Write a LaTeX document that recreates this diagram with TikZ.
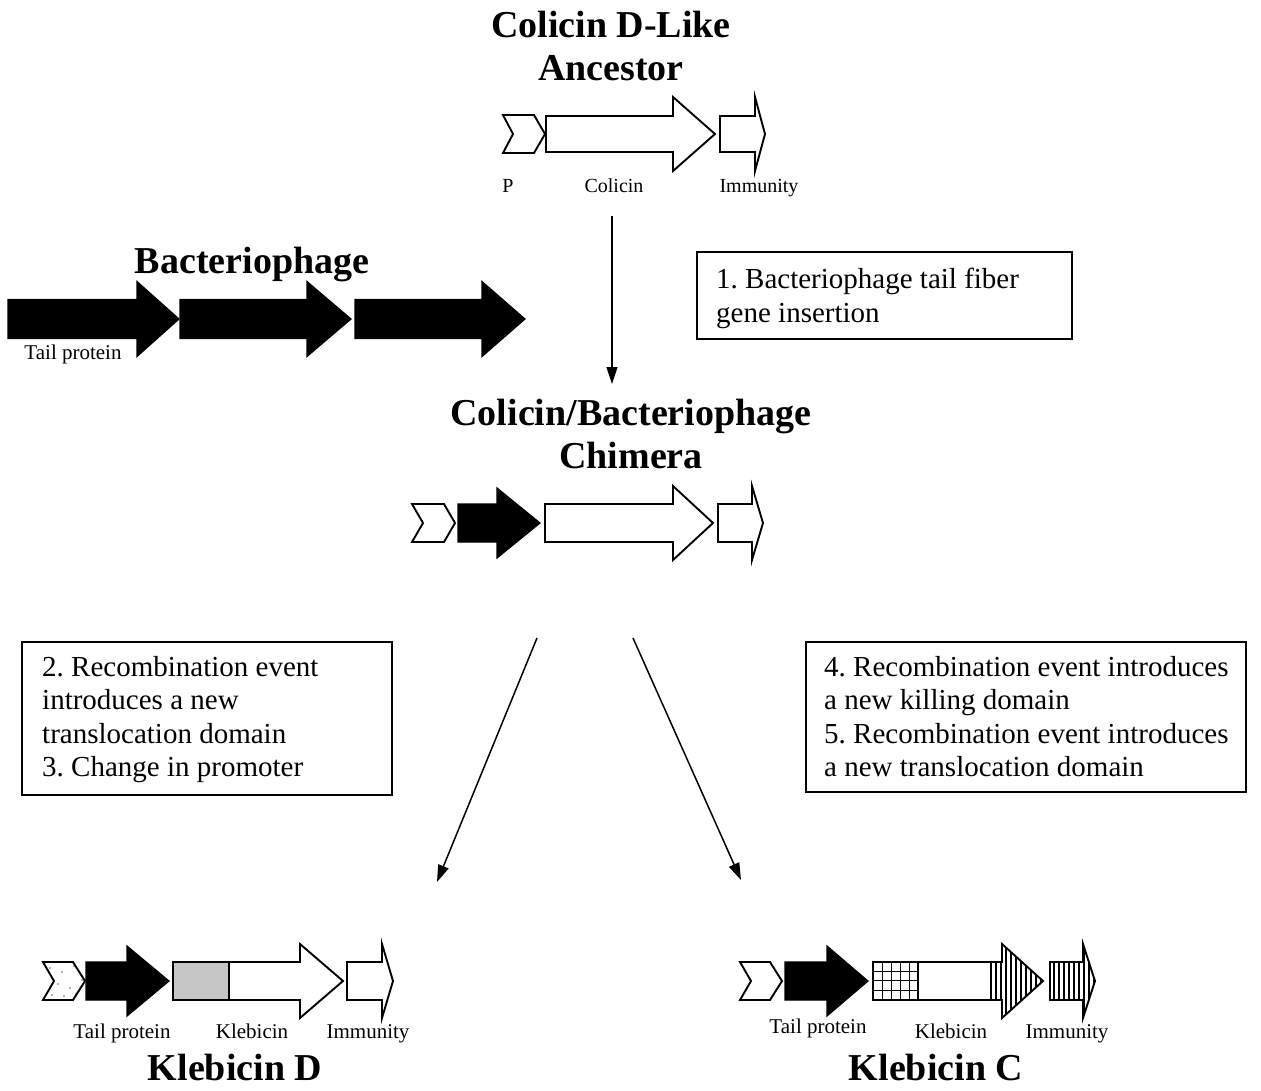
\documentclass[tikz,border=0pt]{standalone}
\usepackage{fontspec}
\setmainfont{Liberation Serif}
\usetikzlibrary{arrows.meta}

% #1 style, #2 x0, #3 head start, #4 tip, #5 y centre, #6 body half-height, #7 head half-height
\newcommand\geneArrow[7]{%
  \path[#1] (#2,#5-#6) -- (#3,#5-#6) -- (#3,#5-#7) -- (#4,#5) -- (#3,#5+#7)
    -- (#3,#5+#6) -- (#2,#5+#6) -- cycle;}
% #1 style, #2 x0, #3 x1, #4 tip, #5 notch, #6 y centre, #7 half-height
\newcommand\genePromoter[7]{%
  \path[#1] (#2,#6-#7) -- (#3,#6-#7) -- (#4,#6) -- (#3,#6+#7) -- (#2,#6+#7)
    -- (#5,#6) -- cycle;}

\tikzset{
  gene/.style={draw=black, line width=1.9pt, line join=miter, fill=white},
  blackgene/.style={draw=black, line width=1.2pt, fill=black},
  title/.style={font=\fontsize{38}{43}\selectfont\bfseries, anchor=base, inner sep=0pt},
  glabel/.style={font=\fontsize{20}{22}\selectfont, anchor=base, inner sep=0pt},
  blabel/.style={font=\fontsize{21}{23}\selectfont, anchor=base, inner sep=0pt},
  stepbox/.style={draw=black, line width=2.6pt, inner sep=0pt},
  steptext/.style={align=left, inner sep=0pt, anchor=north west,
    font=\fontsize{29}{33.5}\selectfont,
    execute at begin node={\frenchspacing}},
  conn/.style={line width=1.5pt, -{Triangle[length=17pt,width=11pt]}},
}

\begin{document}
\begin{tikzpicture}[x=1pt,y=-1pt]
\useasboundingbox (0,0) rectangle (1261,1090);
\fill[white] (0,0) rectangle (1261,1090);

% ---------- Ancestor ----------
\node[title] (anc1) at (611,37) {Colicin D-Like};
\node[title] (anc2) at (611,80) {Ancestor};
\genePromoter{gene}{503}{534}{545}{513}{134}{19}
\geneArrow{gene}{546}{673}{715}{134}{18}{37}
\geneArrow{gene}{720}{755}{765}{134}{18}{37}
\node[glabel] (lP) at (508,192) {P};
\node[glabel] (lCol) at (614,192) {Colicin};
\node[glabel] (lImm) at (759,192) {Immunity};

% ---------- Bacteriophage ----------
\node[title] (phage) at (252,273) {Bacteriophage};
\geneArrow{blackgene}{8}{137}{179}{319}{19.5}{37.5}
\geneArrow{blackgene}{180}{307}{351}{319}{19.5}{37.5}
\geneArrow{blackgene}{355}{482}{525}{319}{19.5}{37.5}
\node[blabel] (ltp0) at (73,359) {Tail protein};

% ---------- Step box 1 ----------
\node[stepbox, minimum width=375pt, minimum height=87pt] (box1) at (884.5,295.5) {};
\node[steptext] (t1) at (716,268) {1. Bacteriophage tail fiber\\gene insertion};

% ---------- Chimera ----------
\coordinate (v1s) at (612,216);
\coordinate (v1e) at (612,384);
\draw[conn] (v1s) -- (v1e);
\node[title] (chim1) at (631,425) {Colicin/Bacteriophage};
\node[title] (chim2) at (631,468) {Chimera};
\genePromoter{gene}{412}{444}{455}{423}{523}{19}
\geneArrow{blackgene}{458}{497}{540}{523}{19}{35}
\geneArrow{gene}{545}{673}{713}{523}{19}{37}
\geneArrow{gene}{718}{752}{763}{523}{19}{37}

% ---------- Branch arrows ----------
\coordinate (d1s) at (537,638);
\coordinate (d1e) at (437,882);
\coordinate (d2s) at (633,638);
\coordinate (d2e) at (741,880);
\draw[conn] (d1s) -- (d1e);
\draw[conn] (d2s) -- (d2e);

% ---------- Step boxes 2-5 ----------
\node[stepbox, minimum width=370pt, minimum height=153pt] (box2) at (207,718.5) {};
\node[steptext] (t2) at (42,656)
  {2. Recombination event\\introduces a new\\translocation domain\\3. Change in promoter};
\node[stepbox, minimum width=440pt, minimum height=150pt] (box4) at (1026,717) {};
\node[steptext] (t4) at (824,656)
  {4. Recombination event introduces\\a new killing domain\\5. Recombination event introduces\\a new translocation domain};

% ---------- Klebicin D ----------
\genePromoter{gene, path picture={
    \foreach \px/\py in {50/968,62/972,74/966,58/984,70/988,82/980,52/995,64/996,76/994}
      \fill[black!60] (\px,\py) circle (0.8);
  }}{43}{73}{85}{54}{981}{19}
\geneArrow{blackgene}{86}{127}{169}{981}{19}{35}
\geneArrow{gene, path picture={
    \fill[gray!45] (173,940) rectangle (229,1022);
    \draw[line width=1.9pt] (229,962) -- (229,1000);
  }}{173}{300}{343}{981}{19}{37}
\geneArrow{gene}{347}{382}{393}{981}{19}{37}
\node[blabel] (ltpD) at (122,1038) {Tail protein};
\node[blabel] (lkD) at (252,1038) {Klebicin};
\node[blabel] (liD) at (368,1038) {Immunity};
\node[title] (kd) at (235,1080) {Klebicin D};

% ---------- Klebicin C ----------
\genePromoter{gene}{740}{770}{782}{751}{981}{19}
\geneArrow{blackgene}{785}{827}{868}{981}{19}{35}
\geneArrow{gene, path picture={
    \foreach \gx in {882,891,...,918} \draw[line width=0.8pt] (\gx,955) -- (\gx,1005);
    \foreach \gy in {971,980.5,990} \draw[line width=0.8pt] (870,\gy) -- (918,\gy);
    \draw[line width=1.9pt] (918,962) -- (918,1000);
    \foreach \sx in {991,996,...,1044} \draw[line width=1.9pt] (\sx,930) -- (\sx,1030);
  }}{873}{1002}{1043}{981}{19}{37}
\geneArrow{gene, path picture={
    \foreach \sx in {1054,1059,...,1096} \draw[line width=1.9pt] (\sx,930) -- (\sx,1030);
  }}{1050}{1083}{1095}{981}{19}{37}
\node[blabel] (ltpC) at (818,1033) {Tail protein};
\node[blabel] (lkC) at (951,1038) {Klebicin};
\node[blabel] (liC) at (1067,1038) {Immunity};
\node[title] (kc) at (936,1080) {Klebicin C};
\end{tikzpicture}
\end{document}
